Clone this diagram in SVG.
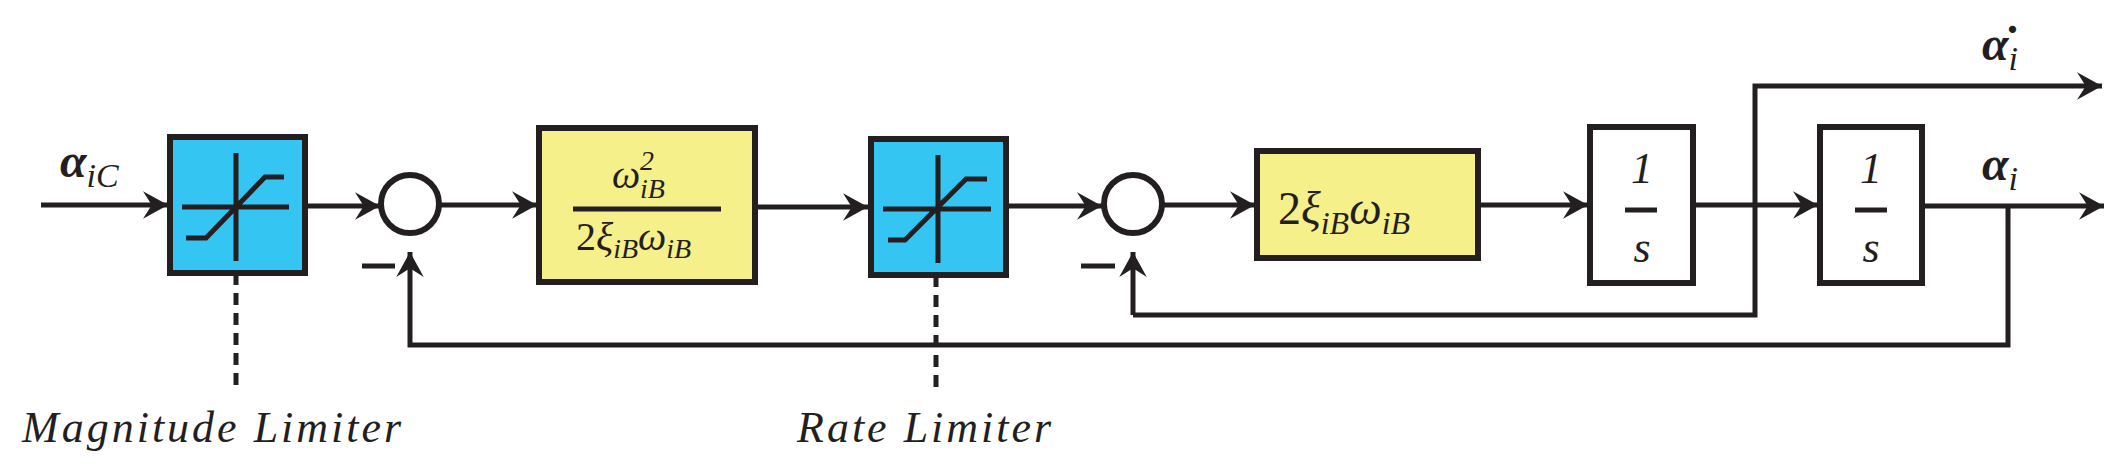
<svg xmlns="http://www.w3.org/2000/svg" width="2125" height="473" viewBox="0 0 2125 473">
<style>
.ln{fill:none;stroke:#231f20;stroke-width:5}
.blue{fill:#35c5f2;stroke:#231f20;stroke-width:6}
.yel{fill:#f5f08a;stroke:#231f20;stroke-width:6}
.wh{fill:#fff;stroke:#231f20;stroke-width:6}
.t{font-family:"Liberation Serif",serif;font-style:italic;fill:#231f20}
.b{font-weight:bold}
</style>
<defs>
<marker id="ar" markerUnits="userSpaceOnUse" markerWidth="30" markerHeight="30" viewBox="-22 -12 24 24" refX="0" refY="0" orient="auto">
<path d="M0,0 L-20,-11 L-13,0 L-20,11 Z" fill="#231f20"/>
</marker>
</defs>
<g id="connectors">
<path class="ln" d="M41,205 H168" marker-end="url(#ar)"/>
<path class="ln" d="M305,206 H380" marker-end="url(#ar)"/>
<path class="ln" d="M440,205 H537" marker-end="url(#ar)"/>
<path class="ln" d="M755,207 H868" marker-end="url(#ar)"/>
<path class="ln" d="M1006,206 H1102" marker-end="url(#ar)"/>
<path class="ln" d="M1162,205 H1255" marker-end="url(#ar)"/>
<path class="ln" d="M1478,205 H1588" marker-end="url(#ar)"/>
<path class="ln" d="M1693,205 H1818" marker-end="url(#ar)"/>
<path class="ln" d="M1922,206 H2104" marker-end="url(#ar)"/>
<path class="ln" d="M1133,315 H1755 V86 H2102" marker-end="url(#ar)"/>
<path class="ln" d="M2008,206 V345 H410 V252" marker-end="url(#ar)"/>
<path class="ln" d="M1133,315 V252" marker-end="url(#ar)"/>
<path class="ln" d="M236,273 V390" stroke-dasharray="12,8"/>
<path class="ln" d="M936,275 V390" stroke-dasharray="12,8"/>
</g>
<g id="magLimiter">
<rect class="blue" x="170" y="137" width="135" height="136"/>
<path class="ln" d="M182,207 H289 M236,153 V261 M186,238 H206 L265,177 H284"/>
</g>
<g id="sum1">
<circle class="wh" cx="410" cy="204" r="29"/>
<path class="ln" d="M362,266 H395"/>
</g>
<g id="gain1">
<rect class="yel" x="539" y="128" width="216" height="154"/>
<text class="t" x="612" y="188" font-size="40">ω</text>
<text class="t" x="640" y="170" font-size="28" font-style="normal">2</text>
<text class="t" x="640" y="198" font-size="28">iB</text>
<path class="ln" d="M573,209 H721"/>
<text class="t" x="576" y="250" font-size="40"><tspan font-style="normal">2</tspan>ξ<tspan font-size="28" dy="8">iB</tspan><tspan dy="-8">ω</tspan><tspan font-size="28" dy="8">iB</tspan></text>
</g>
<g id="rateLimiter">
<rect class="blue" x="871" y="139" width="135" height="136"/>
<path class="ln" d="M883,209 H991 M938,155 V263 M888,240 H905 L966,179 H987"/>
</g>
<g id="sum2">
<circle class="wh" cx="1133" cy="204" r="29"/>
<path class="ln" d="M1081,266 H1115"/>
</g>
<g id="gain2">
<rect class="yel" x="1257" y="151" width="221" height="107"/>
<text class="t" x="1278" y="224" font-size="46"><tspan font-style="normal">2</tspan>ξ<tspan font-size="32" dy="10">iB</tspan><tspan dy="-10">ω</tspan><tspan font-size="32" dy="10">iB</tspan></text>
</g>
<g id="int1">
<rect class="wh" x="1590" y="127" width="103" height="156"/>
<text class="t" x="1642" y="183" font-size="44" font-style="normal" text-anchor="middle">1</text>
<path class="ln" d="M1625,210 H1657"/>
<text class="t" x="1642" y="262" font-size="44" text-anchor="middle">s</text>
</g>
<g id="int2">
<rect class="wh" x="1820" y="127" width="102" height="156"/>
<text class="t" x="1871" y="183" font-size="44" font-style="normal" text-anchor="middle">1</text>
<path class="ln" d="M1855,210 H1887"/>
<text class="t" x="1871" y="262" font-size="44" text-anchor="middle">s</text>
</g>
<g id="labels">
<text class="t b" x="60" y="177" font-size="48">α<tspan font-weight="normal" font-size="34" dy="10">iC</tspan></text>
<text class="t b" x="1982" y="60" font-size="48">α̇<tspan font-weight="normal" font-size="34" dy="10">i</tspan></text>
<text class="t b" x="1982" y="180" font-size="48">α<tspan font-weight="normal" font-size="34" dy="10">i</tspan></text>
<text class="t" x="22" y="442" font-size="44" letter-spacing="3">Magnitude Limiter</text>
<text class="t" x="797" y="442" font-size="44" letter-spacing="3">Rate Limiter</text>
</g>
</svg>
